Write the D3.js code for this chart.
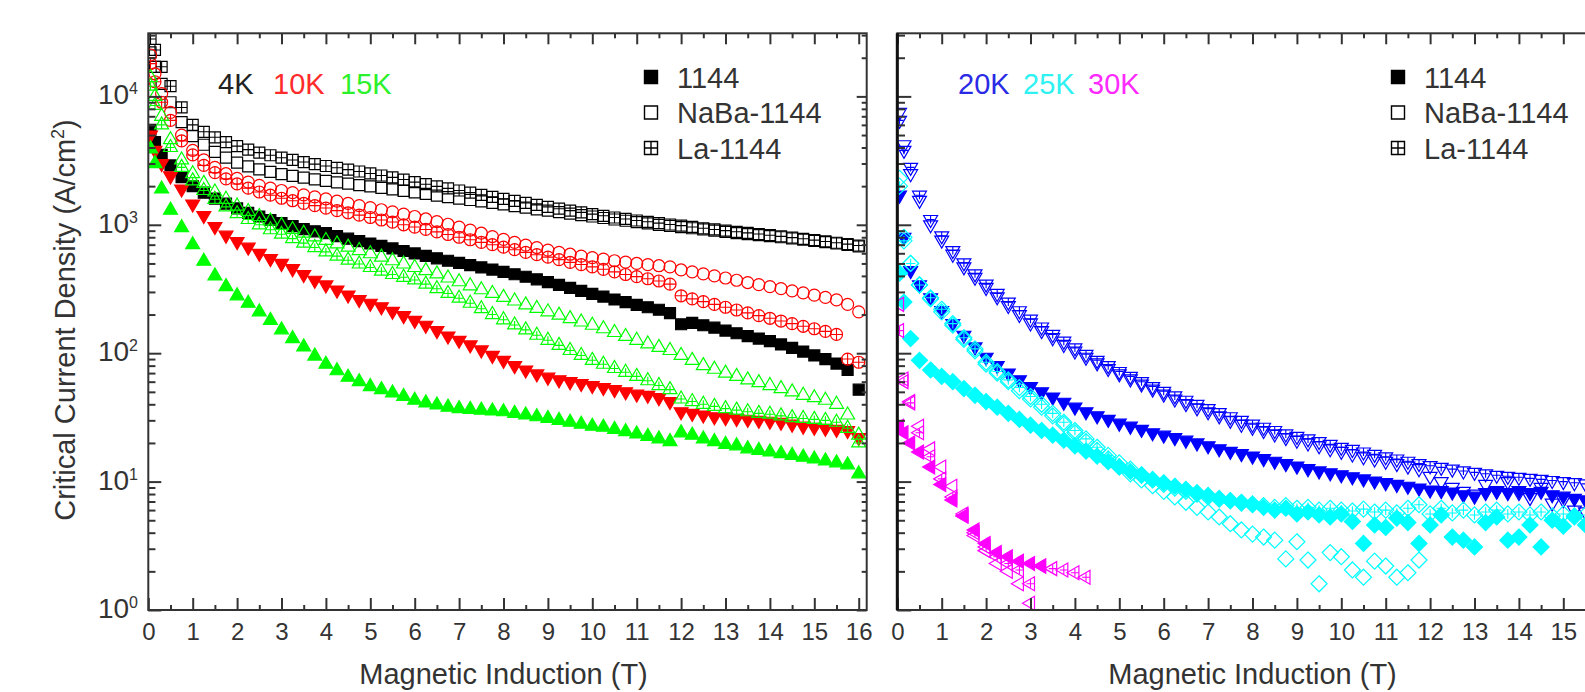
<!DOCTYPE html>
<html lang="en">
<head>
<meta charset="utf-8">
<title>Critical Current Density vs Magnetic Induction</title>
<script src="https://d3js.org/d3.v7.min.js"></script>
<style type="text/css">
  body { margin: 0; background: #ffffff; }
  svg { display: block; font-family: "Liberation Sans", Arial, sans-serif; }
</style>
</head>
<body>
<svg width="1585" height="692"></svg>
<script>

// ---------- data (Jc in A/cm2) ----------
// shared field grid (T); each series lists Jc at these fields, shorter series stop early
var field = [0.05, 0.15, 0.3, 0.5, 0.75, 1,
  1.25, 1.5, 1.75, 2,   2.25, 2.5, 2.75, 3,   3.25, 3.5, 3.75, 4,
  4.25, 4.5, 4.75, 5,   5.25, 5.5, 5.75, 6,   6.25, 6.5, 6.75, 7,
  7.25, 7.5, 7.75, 8,   8.25, 8.5, 8.75, 9,   9.25, 9.5, 9.75, 10,
  10.25, 10.5, 10.75, 11,   11.25, 11.5, 11.75, 12,   12.25, 12.5, 12.75, 13,
  13.25, 13.5, 13.75, 14,   14.25, 14.5, 14.75, 15,   15.25, 15.5, 15.75, 16];

// 4K
var jc4K_1144 = [5500, 4400, 3500, 2900, 2350, 2000,
  1780, 1600, 1460, 1340,  1240, 1160, 1090, 1030,  975, 925, 890, 860,
  815, 780, 745, 715,  685, 655, 625, 598,  572, 548, 525, 505,
  485, 466, 448, 430,  412, 394, 376, 358,  340, 323, 306, 290,
  276, 262, 250, 238,  228, 218, 205, 168,  172, 165, 158, 150,
  143, 136, 130, 124,  117, 110, 103, 96,  90, 83, 74, 52];
var jc4K_NaBa = [22000, 17000, 12500, 9000, 6300, 4900,
  4200, 3700, 3330, 3050,  2850, 2700, 2580, 2480,  2400, 2330, 2260, 2200,
  2140, 2090, 2040, 1990,  1940, 1890, 1840, 1790,  1740, 1690, 1640, 1600,
  1560, 1520, 1480, 1440,  1400, 1360, 1320, 1290,  1255, 1220, 1190, 1160,
  1130, 1100, 1075, 1050,  1025, 1000, 980, 960,  940, 920, 900, 880,
  862, 845, 830, 815,  800, 782, 765, 750,  732, 715, 697, 680];
var jc4K_La = [28000, 23000, 17000, 12000, 8200, 6000,
  5300, 4800, 4400, 4100,  3850, 3650, 3480, 3330,  3200, 3080, 2970, 2870,
  2780, 2690, 2600, 2510,  2420, 2340, 2250, 2150,  2070, 1990, 1920, 1850,
  1780, 1710, 1650, 1590,  1535, 1480, 1430, 1380,  1335, 1290, 1250, 1210,
  1175, 1140, 1110, 1080,  1055, 1030, 1005, 985,  962, 940, 920, 900,
  882, 865, 848, 830,  812, 795, 778, 760,  742, 725, 707, 690];

// 10K
var jc10K_1144 = [5000, 3800, 3000, 2400, 1900, 1450,
  1180, 970, 830, 740,  670, 600, 545, 500,  455, 410, 370, 340,
  310, 284, 262, 245,  230, 212, 196, 180,  165, 150, 136, 126,
  116, 106, 96, 88,  80, 74, 69, 65,  62, 60, 58, 56,
  54, 52, 50, 48,  47, 45, 42, 35,  34, 33, 32, 31.5,
  31, 30.5, 30, 29.5,  29, 28, 27, 26.5,  26, 25.5, 25, 22];
var jc10K_NaBa = [21000, 15000, 10500, 7500, 5000, 3800,
  3200, 2800, 2500, 2300,  2150, 2030, 1930, 1850,  1780, 1710, 1650, 1590,
  1530, 1470, 1410, 1360,  1310, 1260, 1210, 1160,  1110, 1060, 1010, 960,
  910, 860, 810, 770,  730, 695, 665, 635,  610, 590, 570, 555,
  540, 525, 512, 500,  490, 480, 470, 445,  430, 415, 400, 385,
  370, 355, 342, 330,  318, 306, 295, 283,  272, 260, 240, 210];
var jc10K_La = [18000, 13000, 9000, 6500, 4500, 3500,
  2900, 2550, 2280, 2080,  1930, 1800, 1700, 1610,  1540, 1470, 1410, 1350,
  1290, 1240, 1190, 1140,  1090, 1050, 1000, 960,  920, 880, 840, 800,
  765, 730, 700, 670,  640, 610, 585, 560,  535, 510, 490, 470,
  450, 430, 410, 395,  380, 365, 345, 280,  265, 252, 240, 228,
  217, 206, 196, 187,  178, 170, 162, 155,  148, 140, 90, 85];

// 15K
var jc15K_1144 = [3900, 3000, 1900, 1300, 950, 700,
  520, 400, 330, 280,  245, 210, 180, 152,  130, 112, 95, 82,
  73, 65, 60, 55,  52, 49, 46, 43,  41, 39.5, 38, 37,
  36.5, 36, 35.5, 35,  34, 33, 32, 31,  30, 29, 28, 27,
  26.5, 25.5, 24.5, 23.5,  22.5, 21.5, 20.5, 24,  23, 21.5, 20.5, 19.5,
  19, 18, 17.5, 17,  16.5, 16, 15.5, 15,  14.5, 14, 13.5, 11.5];
var jc15K_NaBa = [14000, 10000, 7000, 4600, 3200, 2500,
  2100, 1800, 1580, 1400,  1270, 1160, 1070, 990,  920, 860, 805, 755,
  710, 670, 630, 595,  560, 525, 495, 465,  440, 415, 385, 360,
  335, 312, 292, 272,  255, 238, 223, 210,  198, 186, 175, 165,
  155, 145, 135, 126,  118, 111, 105, 96,  88, 80, 75, 70,
  66, 62, 59, 56,  53, 50, 47, 45,  43, 40, 33, 23];
var jc15K_La = [12000, 8500, 6000, 4000, 2800, 2200,
  1850, 1580, 1380, 1220,  1100, 1000, 915, 845,  780, 720, 665, 615,
  570, 530, 495, 465,  435, 410, 390, 372,  345, 318, 292, 268,
  245, 222, 200, 182,  166, 152, 138, 126,  115, 105, 96, 88,
  82, 76, 71, 66,  61, 56, 52, 44,  42, 40, 38.5, 37,
  36, 35, 34, 33.5,  32.5, 31.5, 31, 30.5,  30, 29, 26, 20];

// 20K
var jc20K_1144 = [1700, 800, 440, 340, 270, 215,
  170, 138, 112, 93,  80, 70, 62, 55,  50, 45.5, 41.5, 38,
  35, 32.5, 30.5, 28.5,  27, 25.5, 24, 23,  22, 21, 20, 19,
  18, 17.2, 16.5, 15.8,  15.1, 14.4, 13.8, 13.2,  12.6, 12.1, 11.7, 11.3,
  10.9, 10.5, 10.1, 9.8,  9.5, 9.2, 8.9, 8.6,  8.5, 8.3, 7.9, 7.7,
  8.2, 8.4, 8.2, 8.5,  8.2, 8.4, 7.9, 7.7,  7.4, 7.2, 7, 6.8];
var jc20K_NaBa = [7500, 4200, 2500, 1550, 1000, 760,
  590, 470, 390, 325,  275, 235, 200, 172,  150, 132, 117, 104,
  93, 84, 76, 69,  63, 57.5, 52.5, 48,  44, 40.5, 37.5, 35,
  32.5, 30, 28, 26.5,  25, 23.5, 22, 21,  20, 19, 18, 17.2,
  16.4, 15.6, 15, 14.4,  13.8, 13.2, 12.6, 11,  10, 9, 8.4, 8,
  9.5, 8.5, 10, 8.2,  7.5, 9, 6.8, 7.2,  6, 5.8, 6.5, 6];
var jc20K_La = [6500, 3800, 2800, 1700, 1100, 820,
  630, 505, 415, 345,  292, 250, 214, 184,  160, 140, 124, 110,
  98, 88, 80, 72,  66, 60, 55, 50.5,  46.5, 43, 40, 37,
  34.5, 32, 30, 28,  26.5, 25, 23.5, 22.5,  21.5, 20.5, 19.5, 18.5,
  17.8, 17, 16.3, 15.6,  15, 14.4, 13.8, 13.3,  12.9, 12.5, 12.1, 11.8,
  11.5, 11.2, 11, 10.8,  10.6, 10.4, 10.2, 10,  9.8, 9.6, 9.4, 9.2];

// 25K
var jc25K_1144 = [420, 250, 130, 88, 74, 66,
  60, 53, 47, 42,  38, 34, 30.5, 27.5,  25, 23, 21, 19,
  17.3, 15.8, 14.3, 13,  12, 11.2, 10.4, 9.8,  9.2, 8.7, 8.2, 7.8,
  7.4, 7.1, 6.8, 6.6,  6.3, 6.0, 6.2, 5.6,  5.8, 5.5, 5.3, 5.6,
  4.9, 3.3, 4.6, 4.4,  5.2, 4.8, 3.3, 4.6,  5.5, 3.7, 3.5, 3.1,
  4.8, 5.3, 3.5, 3.7,  4.6, 3.1, 5.0, 4.5,  5.4, 4.6, 5.2, 4.8];
var jc25K_NaBa = [2300, 800, 500, 340, 265, 210,
  165, 128, 104, 82,  70, 60, 51, 44,  38, 32.5, 28, 24,
  20.5, 17.5, 15, 13,  11.5, 10.3, 9.3, 8.4,  7.6, 6.9, 6.3, 5.8,
  5.3, 4.7, 4.2, 3.9,  3.7, 3.5, 2.5, 3.4,  2.45, 1.6, 2.8, 2.6,
  2.05, 1.8, 2.4, 2.2,  1.8, 1.95, 2.45];
var jc25K_La = [2000, 750, 500, 340, 270, 220,
  170, 132, 108, 85,  72, 62, 54, 46,  40, 34, 29, 25,
  21.5, 18.5, 16, 14,  12.5, 11.3, 10.3, 9.5,  8.9, 8.4, 8, 7.6,
  7.3, 7.1, 6.9, 6.7,  6.5, 6.3, 6.5, 6.2,  6.3, 6.0, 6.2, 6.0,
  5.9, 6.1, 5.8, 6.0,  5.7, 6.2, 6.6, 5.6,  6.2, 5.7, 6.0, 5.5,
  5.8, 6.0, 5.6, 5.8,  5.5, 5.8, 5.4, 5.6,  5.3, 5.5, 5.6, 5.4];

// 30K
var jc30K_1144 = [27, 24, 20, 17, 13, 9.5,
  7.2, 5.4, 4.2, 3.3,  2.8, 2.6, 2.4, 2.3,  2.2];
var jc30K_NaBa = [240, 63, 42, 27, 18, 13,
  9.2, 5.6, 3.8, 2.9,  2.3, 2.0, 1.6, 1.13];
var jc30K_La = [150, 60, 41, 24, 15.6, 10.5,
  7.6, 5.4, 4.0, 3.1,  2.6, 2.3, 2.05, 1.6,  2.2, 2.1, 2.05, 1.95,  1.8];

// labels
var samples = ['1144', 'NaBa-1144', 'La-1144'];
var leftTemps = ['4K', '10K', '15K'];
var rightTemps = ['20K', '25K', '30K'];
var xTickLabels = [0, 1, 2, 3, 4, 5, 6, 7, 8, 9, 10, 11, 12, 13, 14, 15, 16];
var yTickLabels = [1, 10, 100, 1000, 10000];

// ---------- styling ----------
var tempColor = {'4K': '#000000', '10K': '#ff0000', '15K': '#00ff00',
                 '20K': '#0000ff', '25K': '#00ffff', '30K': '#ff00ff'};
var labelColor = {'4K': '#222222', '10K': '#ff2a2a', '15K': '#2cf02c',
                  '20K': '#2a2ae6', '25K': '#2ef2f2', '30K': '#ff2aff'};
var tempShape = {'4K': 'square', '10K': 'circle', '15K': 'up',
                 '20K': 'down', '25K': 'diamond', '30K': 'left'};
var shapeSize = {square: 5.5, circle: 6, up: 8, down: 8, diamond: 8, left: 8};
var ink = '#333333';

var leftSeries = [
  {temp: '4K', kind: 0, jc: jc4K_1144}, {temp: '4K', kind: 1, jc: jc4K_NaBa}, {temp: '4K', kind: 2, jc: jc4K_La},
  {temp: '10K', kind: 0, jc: jc10K_1144, shape: 'down'}, {temp: '10K', kind: 1, jc: jc10K_NaBa}, {temp: '10K', kind: 2, jc: jc10K_La},
  {temp: '15K', kind: 0, jc: jc15K_1144}, {temp: '15K', kind: 1, jc: jc15K_NaBa}, {temp: '15K', kind: 2, jc: jc15K_La}
];
var rightSeries = [
  {temp: '20K', kind: 0, jc: jc20K_1144}, {temp: '20K', kind: 1, jc: jc20K_NaBa}, {temp: '20K', kind: 2, jc: jc20K_La},
  {temp: '25K', kind: 0, jc: jc25K_1144}, {temp: '25K', kind: 1, jc: jc25K_NaBa}, {temp: '25K', kind: 2, jc: jc25K_La},
  {temp: '30K', kind: 0, jc: jc30K_1144}, {temp: '30K', kind: 1, jc: jc30K_NaBa}, {temp: '30K', kind: 2, jc: jc30K_La}
];

// symbol outline, centred on 0,0
function symbolPath(shape, r) {
  var a = 0.87 * r, h = 0.5 * r;
  if (shape === 'square') return 'M' + (-r) + ',' + (-r) + 'H' + r + 'V' + r + 'H' + (-r) + 'Z';
  if (shape === 'circle') return 'M' + r + ',0A' + r + ',' + r + ' 0 1,1 ' + (-r) + ',0A' + r + ',' + r + ' 0 1,1 ' + r + ',0Z';
  if (shape === 'up') return 'M0,' + (-r) + 'L' + a + ',' + h + 'L' + (-a) + ',' + h + 'Z';
  if (shape === 'down') return 'M0,' + r + 'L' + a + ',' + (-h) + 'L' + (-a) + ',' + (-h) + 'Z';
  if (shape === 'diamond') return 'M0,' + (-r) + 'L' + r + ',0L0,' + r + 'L' + (-r) + ',0Z';
  return 'M' + (-r) + ',0L' + h + ',' + (-a) + 'L' + h + ',' + a + 'Z';
}
// the "+" drawn inside the La-1144 symbols
function crossPath(shape, r) {
  var c = (shape === 'square' || shape === 'circle') ? r : (shape === 'diamond' ? 0.6 * r : 0.5 * r);
  return 'M' + (-c) + ',0H' + c + 'M0,' + (-c) + 'V' + c;
}

var svg = d3.select('svg');

// plot frames (pixels)
var plotTop = 33.3, plotBottom = 610;
var y = d3.scaleLog().domain([1, 31000]).range([plotBottom, plotTop]);
var xLeft = d3.scaleLinear().domain([0, 16.18]).range([148.3, 866.7]);
var xRight = d3.scaleLinear().domain([0, 16.18]).range([897.3, 1615.7]);

var xMinor = [0.5, 1.5, 2.5, 3.5, 4.5, 5.5, 6.5, 7.5, 8.5, 9.5, 10.5, 11.5, 12.5, 13.5, 14.5, 15.5];
var yMinor = [];
yTickLabels.forEach(function(d) {
  if (d < 10000) [2, 3, 4, 5, 6, 7, 8, 9].forEach(function(m) { yMinor.push(d * m); });
});
yMinor.push(20000, 30000);

function styleAxis(g) {
  g.select('.domain').remove();
  g.selectAll('line').attr('stroke', ink).attr('stroke-width', 2);
  g.selectAll('text').attr('fill', ink);
  g.attr('font-family', '"Liberation Sans", Arial, sans-serif').attr('font-size', 24);
}

function drawPanel(id, x, series, labels, legendX, leftTick) {
  var x0 = x.range()[0], x1 = x.range()[1];

  svg.append('clipPath').attr('id', 'clip-' + id)
    .append('rect').attr('x', x0).attr('y', plotTop).attr('width', x1 - x0).attr('height', plotBottom - plotTop);

  // markers
  var plot = svg.append('g').attr('clip-path', 'url(#clip-' + id + ')');
  series.forEach(function(s) {
    var shape = s.shape || tempShape[s.temp], r = shapeSize[shape], col = tempColor[s.temp];
    var pts = field.map(function(b, i) { return [b, s.jc[i]]; })
                   .filter(function(d) { return d[1] != null; });
    var marks = plot.append('g').selectAll('g').data(pts).enter().append('g')
      .attr('transform', function(d) { return 'translate(' + x(d[0]) + ',' + y(d[1]) + ')'; });
    marks.append('path')
      .attr('d', symbolPath(shape, r))
      .attr('fill', s.kind === 0 ? col : 'none')
      .attr('stroke', col)
      .attr('stroke-width', 1.2);
    if (s.kind === 2) {
      marks.append('path').attr('d', crossPath(shape, r))
        .attr('stroke', col).attr('stroke-width', 1.1).attr('fill', 'none');
    }
  });

  // ticks, pointing inward
  svg.append('g').attr('transform', 'translate(0,' + plotBottom + ')')
    .call(d3.axisBottom(x).tickValues(labels).tickSize(-12).tickPadding(13).tickFormat(d3.format('d')))
    .call(styleAxis);
  svg.append('g').attr('transform', 'translate(0,' + plotBottom + ')')
    .call(d3.axisBottom(x).tickValues(xMinor).tickSize(-5).tickFormat(''))
    .call(styleAxis);
  svg.append('g').attr('transform', 'translate(0,' + plotTop + ')')
    .call(d3.axisTop(x).tickValues(xTickLabels).tickSize(-11).tickFormat(''))
    .call(styleAxis);
  svg.append('g').attr('transform', 'translate(0,' + plotTop + ')')
    .call(d3.axisTop(x).tickValues(xMinor).tickSize(-5).tickFormat(''))
    .call(styleAxis);
  svg.append('g').attr('transform', 'translate(' + x0 + ',0)')
    .call(d3.axisLeft(y).tickValues(yTickLabels).tickSize(-leftTick).tickFormat(''))
    .call(styleAxis);
  svg.append('g').attr('transform', 'translate(' + x0 + ',0)')
    .call(d3.axisLeft(y).tickValues(yMinor).tickSize(-leftTick * 0.55).tickFormat(''))
    .call(styleAxis);
  svg.append('g').attr('transform', 'translate(' + x1 + ',0)')
    .call(d3.axisRight(y).tickValues(yTickLabels).tickSize(-10).tickFormat(''))
    .call(styleAxis);
  svg.append('g').attr('transform', 'translate(' + x1 + ',0)')
    .call(d3.axisRight(y).tickValues(yMinor).tickSize(-5).tickFormat(''))
    .call(styleAxis);

  // frame
  svg.append('rect')
    .attr('x', x0).attr('y', plotTop).attr('width', x1 - x0).attr('height', plotBottom - plotTop)
    .attr('fill', 'none').attr('stroke', ink).attr('stroke-width', 2);

  // x title
  svg.append('text')
    .attr('x', x(8)).attr('y', 684)
    .attr('text-anchor', 'middle').attr('font-size', 29).attr('fill', ink)
    .text('Magnetic Induction (T)');

  // legend
  var lg = svg.append('g');
  samples.forEach(function(name, i) {
    var cy = 77 + i * 35.5;
    lg.append('path')
      .attr('transform', 'translate(' + legendX + ',' + cy + ')')
      .attr('d', symbolPath('square', 6.5))
      .attr('fill', i === 0 ? '#000' : '#fff')
      .attr('stroke', '#000').attr('stroke-width', 1.4);
    if (i === 2) {
      lg.append('path')
        .attr('transform', 'translate(' + legendX + ',' + cy + ')')
        .attr('d', crossPath('square', 6.5))
        .attr('stroke', '#000').attr('stroke-width', 1.4);
    }
    lg.append('text')
      .attr('x', legendX + 26).attr('y', cy + 10.5)
      .attr('font-size', 29).attr('fill', ink)
      .text(name);
  });
}

// the right panel is cropped by the page edge, so its last label (16) is not shown
drawPanel('left', xLeft, leftSeries, xTickLabels, 651, 13);
drawPanel('right', xRight, rightSeries, xTickLabels.slice(0, 16), 1398, 14);

// thicker inner axis of the right panel
svg.append('line')
  .attr('x1', xRight(0)).attr('x2', xRight(0)).attr('y1', plotTop).attr('y2', plotBottom)
  .attr('stroke', '#111').attr('stroke-width', 3);

// y tick labels (left panel only), as 10^n
yTickLabels.forEach(function(v) {
  var t = svg.append('text')
    .attr('x', 138).attr('y', y(v) + 8)
    .attr('text-anchor', 'end').attr('font-size', 28).attr('fill', ink);
  t.append('tspan').text('10');
  t.append('tspan').attr('font-size', 16).attr('dy', -10).text(Math.round(Math.log10(v)));
});

// y title
var yt = svg.append('text')
  .attr('transform', 'translate(75,320) rotate(-90)')
  .attr('text-anchor', 'middle').attr('font-size', 29).attr('fill', ink);
yt.append('tspan').text('Critical Current Density (A/cm');
yt.append('tspan').attr('font-size', 18).attr('dy', -11).text('2');
yt.append('tspan').attr('dy', 11).text(')');

// temperature labels
var tempX = {'4K': 218, '10K': 273, '15K': 340, '20K': 958, '25K': 1023, '30K': 1088};
leftTemps.concat(rightTemps).forEach(function(t) {
  svg.append('text')
    .attr('x', tempX[t]).attr('y', 94)
    .attr('font-size', 29).attr('fill', labelColor[t])
    .text(t);
});

</script>
</body>
</html>
